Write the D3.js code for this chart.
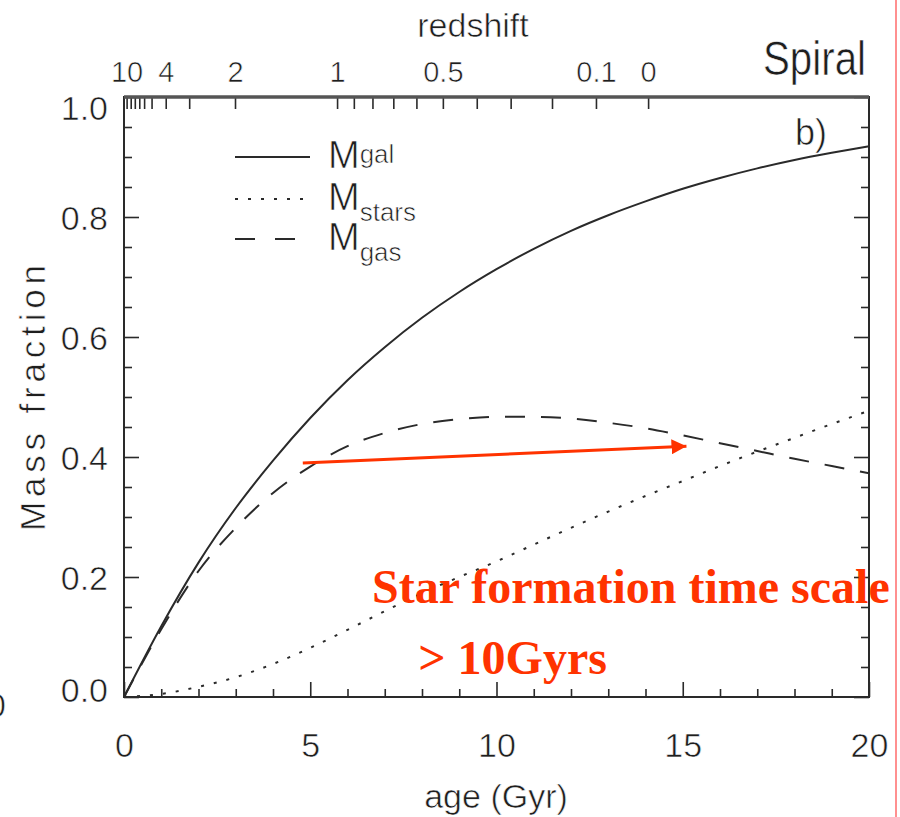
<!DOCTYPE html>
<html>
<head>
<meta charset="utf-8">
<script src="https://cdn.jsdelivr.net/npm/d3@7"></script>
<style>
  body { margin: 0; background: #fff; }
  svg text.lab { font-family: "Liberation Sans", Arial, sans-serif; fill: #1e1e1e; stroke: #fff; stroke-width: 0.6px; }
  svg text.note { font-family: "Liberation Serif", "Times New Roman", serif; font-weight: bold; fill: #ff3300; }
</style>
</head>
<body>
<svg id="chart" width="900" height="817"></svg>
<script>
// Galaxy age (Gyr) sampling
const ages = [0, 1, 2, 3, 4, 5, 6, 7, 8, 9, 10, 11, 12, 13, 14, 15, 16, 17, 18, 19, 20];
// Total galaxy mass fraction
const galMass = [0, 0.118, 0.224, 0.315, 0.394, 0.465, 0.528, 0.583, 0.632, 0.675, 0.713,
                 0.747, 0.777, 0.803, 0.826, 0.847, 0.865, 0.881, 0.895, 0.907, 0.918];
// Stellar mass fraction
const starMass = [0, 0.005, 0.017, 0.033, 0.055, 0.082, 0.112, 0.143, 0.173, 0.200, 0.226,
                  0.254, 0.282, 0.309, 0.335, 0.360, 0.385, 0.409, 0.432, 0.455, 0.477];
// Gas mass fraction
const gasMass = [0, 0.113, 0.210, 0.282, 0.340, 0.384, 0.418, 0.440, 0.455, 0.463, 0.467,
                 0.467, 0.464, 0.457, 0.448, 0.436, 0.423, 0.410, 0.397, 0.385, 0.373];

// Redshift axis: labelled ticks and the ages at which they sit
const zLabels = ["10", "4", "2", "1", "0.5", "0.1", "0"];
const zLabelAges = [0.07, 1.12, 2.98, 5.72, 8.56, 12.67, 14.07];
// Unlabelled redshift ticks (z = 9,8,7,6,5,3, 0.9..0.6, 0.4..0.2)
const zMinorAges = [0.18, 0.29, 0.41, 0.54, 0.74, 1.75, 6.17, 6.67, 7.23, 7.85, 9.47, 10.38, 11.49];

// Age and mass-fraction tick values
const xMajor = [0, 5, 10, 15, 20];
const xMinor = [1, 2, 3, 4, 6, 7, 8, 9, 11, 12, 13, 14, 16, 17, 18, 19];
const yMajor = [0, 0.2, 0.4, 0.6, 0.8, 1.0];
const yMinor = [0.05, 0.1, 0.15, 0.25, 0.3, 0.35, 0.45, 0.5, 0.55, 0.65, 0.7, 0.75, 0.85, 0.9, 0.95];

// Arrow annotation (age, mass fraction)
const arrowFrom = [4.8, 0.39];
const arrowTo = [15.1, 0.418];

const svg = d3.select("#chart");
const W = 900, H = 817;
const m = { left: 124, right: 31, top: 97, bottom: 120 };

const x = d3.scaleLinear().domain([0, 20]).range([m.left, W - m.right]);
const y = d3.scaleLinear().domain([0, 1]).range([H - m.bottom, m.top]);

const ink = "#2a2a2a";
const red = "#ff3300";

// Axes (ticks point into the plot)
const styleAxis = g => {
  g.select(".domain").remove();
  g.selectAll(".tick line").attr("stroke", ink).attr("stroke-width", 1.6);
  g.selectAll(".tick text").attr("font-size", 34).attr("class", "lab").attr("fill", null);
};

svg.append("g").attr("transform", `translate(${m.left},0)`)
  .call(d3.axisLeft(y).tickValues(yMajor).tickSize(-15).tickPadding(16).tickFormat(d3.format(".1f")))
  .call(styleAxis)
  .selectAll(".tick text")
  .attr("dy", d => d === 1 ? "0.65em" : d === 0 ? "0.12em" : "0.38em");
svg.append("g").attr("transform", `translate(${m.left},0)`)
  .call(d3.axisLeft(y).tickValues(yMinor).tickSize(-8).tickFormat(""))
  .call(styleAxis);

svg.append("g").attr("transform", `translate(${W - m.right},0)`)
  .call(d3.axisRight(y).tickValues(yMajor).tickSize(-15).tickFormat(""))
  .call(styleAxis);
svg.append("g").attr("transform", `translate(${W - m.right},0)`)
  .call(d3.axisRight(y).tickValues(yMinor).tickSize(-8).tickFormat(""))
  .call(styleAxis);

svg.append("g").attr("transform", `translate(0,${H - m.bottom})`)
  .call(d3.axisBottom(x).tickValues(xMajor).tickSize(-15).tickPadding(36).tickFormat(d3.format("d")))
  .call(styleAxis);
svg.append("g").attr("transform", `translate(0,${H - m.bottom})`)
  .call(d3.axisBottom(x).tickValues(xMinor).tickSize(-8).tickFormat(""))
  .call(styleAxis);

svg.append("g").attr("transform", `translate(0,${m.top})`)
  .call(d3.axisTop(x).tickValues(zLabelAges).tickSize(-12).tickPadding(15)
    .tickFormat((d, i) => zLabels[i]))
  .call(styleAxis)
  .selectAll(".tick text").attr("font-size", 29);
svg.append("g").attr("transform", `translate(0,${m.top})`)
  .call(d3.axisTop(x).tickValues(zMinorAges).tickSize(-12).tickFormat(""))
  .call(styleAxis);

// Frame
svg.append("rect")
  .attr("x", m.left).attr("y", m.top)
  .attr("width", W - m.left - m.right).attr("height", H - m.top - m.bottom)
  .attr("fill", "none").attr("stroke", ink).attr("stroke-width", 2);
svg.append("line")
  .attr("x1", m.left).attr("x2", W - m.right).attr("y1", m.top).attr("y2", m.top)
  .attr("stroke", "#555").attr("stroke-width", 3.5);

// Curves
const line = d3.line().x((d, i) => x(ages[i])).y(d => y(d)).curve(d3.curveMonotoneX);
const series = [
  { values: galMass, dash: null },
  { values: starMass, dash: "3,10" },
  { values: gasMass, dash: "20,16" }
];
svg.append("g").selectAll("path").data(series).join("path")
  .attr("d", d => line(d.values))
  .attr("fill", "none").attr("stroke", ink).attr("stroke-width", 2)
  .attr("stroke-dasharray", d => d.dash);

// Legend
const legend = [
  { sup: "gal", sub: null, dash: null, ly: 157 },
  { sup: null, sub: "stars", dash: "3,10", ly: 199 },
  { sup: null, sub: "gas", dash: "20,20", ly: 239 }
];
const lg = svg.append("g");
legend.forEach(d => {
  lg.append("line").attr("x1", 235).attr("x2", 310).attr("y1", d.ly).attr("y2", d.ly)
    .attr("stroke", ink).attr("stroke-width", 2).attr("stroke-dasharray", d.dash);
  const t = lg.append("text").attr("class", "lab").attr("x", 328).attr("y", d.ly + 11).attr("font-size", 38);
  t.append("tspan").text("M");
  if (d.sup) t.append("tspan").attr("font-size", 26).attr("dy", -5).text(d.sup);
  if (d.sub) t.append("tspan").attr("font-size", 26).attr("dy", 11).text(d.sub);
});

// Titles
const label = (tx, ty, size, anchor, text) =>
  svg.append("text").attr("class", "lab").attr("x", tx).attr("y", ty)
    .attr("font-size", size).attr("text-anchor", anchor).text(text);

label(473, 37, 34, "middle", "redshift");
label(866, 75, 48, "end", "Spiral").attr("textLength", 103).attr("lengthAdjust", "spacingAndGlyphs");
label(795, 145, 36, "start", "b)");
label(496, 808, 34, "middle", "age (Gyr)");
svg.append("text").attr("class", "lab")
  .attr("transform", "translate(45,398) rotate(-90)").attr("text-anchor", "middle")
  .attr("font-size", 35).attr("textLength", 266).attr("lengthAdjust", "spacing")
  .text("Mass fraction");
label(6, 717, 34, "end", "0");

// Red annotation: arrow and text
const defs = svg.append("defs");
defs.append("marker").attr("id", "head").attr("viewBox", "0 0 10 10")
  .attr("refX", 10).attr("refY", 5).attr("markerWidth", 5).attr("markerHeight", 5)
  .attr("markerUnits", "strokeWidth").attr("orient", "auto")
  .append("path").attr("d", "M0,0 L10,5 L0,10 Z").attr("fill", red);
svg.append("line")
  .attr("x1", x(arrowFrom[0])).attr("y1", y(arrowFrom[1]))
  .attr("x2", x(arrowTo[0])).attr("y2", y(arrowTo[1]))
  .attr("stroke", red).attr("stroke-width", 3).attr("marker-end", "url(#head)");

svg.append("text").attr("class", "note").attr("x", x(6.66)).attr("y", y(0.157))
  .attr("font-size", 48).text("Star formation time scale");
svg.append("text").attr("class", "note").attr("x", x(7.9)).attr("y", y(0.0383))
  .attr("font-size", 48).text("> 10Gyrs");

// Slide edge
svg.append("line").attr("x1", 896).attr("x2", 896).attr("y1", 0).attr("y2", H)
  .attr("stroke", "#ff6b6b").attr("stroke-width", 1.5);
</script>
</body>
</html>
